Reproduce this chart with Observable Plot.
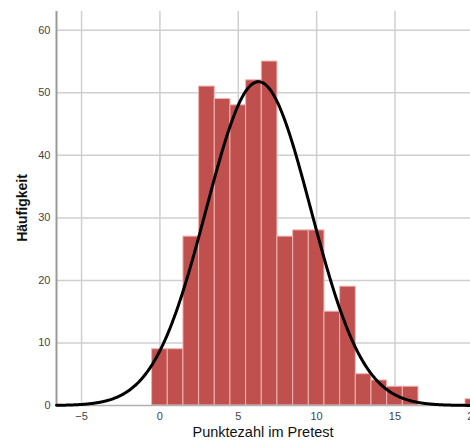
<!DOCTYPE html>
<html>
<head>
<meta charset="utf-8">
<script src="https://cdn.jsdelivr.net/npm/d3@7"></script>
<script src="https://cdn.jsdelivr.net/npm/@observablehq/plot@0.6"></script>
<style>
  html, body { margin: 0; padding: 0; background: #fff; overflow: hidden; }
  #chart { position: relative; width: 470px; height: 442px; overflow: hidden; }
  #chart svg { max-width: none !important; height: 442px !important; }
  .ytitle { position: absolute; left: 12px; top: 208px; transform: translate(-50%, -50%) rotate(-90deg); transform-origin: center; font: bold 14px "Liberation Sans", Arial, sans-serif; color: #111; white-space: nowrap; margin-left: 10px; }
  .xtitle { position: absolute; left: 263px; top: 424px; transform: translateX(-50%); font: 14.5px "Liberation Sans", Arial, sans-serif; color: #111; white-space: nowrap; }
</style>
</head>
<body>
<div id="chart"></div>
<script>
// Score bins (bin width 1, centred on the score) and their frequencies
const scores = [0, 1, 2, 3, 4, 5, 6, 7, 8, 9, 10, 11, 12, 13, 14, 15, 16, 17, 18, 19, 20];
const counts = [9, 9, 27, 51, 49, 48, 52, 55, 27, 28, 28, 15, 19, 5, 4, 3, 3, 0, 0, 0, 1];
const xTicks = [-5, 0, 5, 10, 15, 20];
const yTicks = [0, 10, 20, 30, 40, 50, 60];
const xTitle = "Punktezahl im Pretest";
const yTitle = "Häufigkeit";

const bins = scores.map((s, i) => ({score: s, count: counts[i]})).filter(d => d.count > 0);

// Normal curve fitted to the histogram (SPSS style): mean / sd / N from the bins
const N = d3.sum(counts);
const mean = d3.sum(scores, (s, i) => s * counts[i]) / N;
const variance = d3.sum(scores, (s, i) => (s - mean) ** 2 * counts[i]) / (N - 1);
const sd = Math.sqrt(variance);
const curve = d3.range(-6.6, 21.01, 0.05).map(x => ({
  x,
  y: N * Math.exp(-0.5 * ((x - mean) / sd) ** 2) / (sd * Math.sqrt(2 * Math.PI))
}));

const chart = Plot.plot({
  width: 500,
  height: 442,
  marginLeft: 56,
  marginRight: 11.5,
  marginTop: 11,
  marginBottom: 37,
  style: {fontFamily: "'Liberation Sans', Arial, sans-serif", fontSize: "11px", color: "#444", background: "#fff", overflow: "visible", maxWidth: "none"},
  x: {domain: [-6.6, 21], label: null},
  y: {domain: [0, 63], label: null},
  marks: [
    Plot.gridX(xTicks, {stroke: "#cfcfcf", strokeOpacity: 1, strokeWidth: 1.5}),
    Plot.gridY(yTicks.filter(t => t > 0), {stroke: "#cfcfcf", strokeOpacity: 1, strokeWidth: 1.5}),
    Plot.rectY(bins, {x1: d => d.score - 0.5, x2: d => d.score + 0.5, y: "count", fill: "#c0504d", stroke: "#eeb4b1", strokeWidth: 1, inset: 0}),
    Plot.ruleX([-6.6], {stroke: "#9a9a9a", strokeWidth: 2}),
    Plot.ruleY([0], {stroke: "#b0b0b0", strokeWidth: 1.5}),
    Plot.line(curve, {x: "x", y: "y", stroke: "#000", strokeWidth: 3, curve: "basis"}),
    Plot.axisX(xTicks, {tickSize: 0, tickPadding: 7, fill: "#444", fontSize: 11, label: null}),
    Plot.axisY(yTicks, {tickSize: 0, tickPadding: 6, fill: "#444", fontSize: 11, label: null})
  ]
});
const el = document.getElementById("chart");
el.appendChild(chart);
const yt = document.createElement("div"); yt.className = "ytitle"; yt.textContent = yTitle; el.appendChild(yt);
const xt = document.createElement("div"); xt.className = "xtitle"; xt.textContent = xTitle; el.appendChild(xt);
</script>
</body>
</html>
